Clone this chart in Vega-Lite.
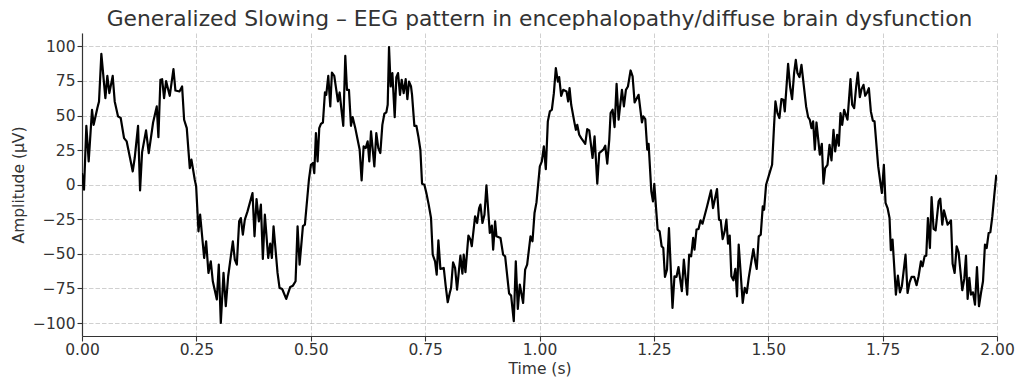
{
  "$schema": "https://vega.github.io/schema/vega-lite/v6.json",
  "width": 915,
  "height": 303,
  "autosize": {"type": "none"},
  "padding": {"left": 82, "top": 33, "right": 27, "bottom": 54},
  "background": "white",
  "title": {
    "text": "Generalized Slowing – EEG pattern in encephalopathy/diffuse brain dysfunction",
    "font": "DejaVu Sans",
    "fontSize": 21.8,
    "fontWeight": "normal",
    "color": "#333333",
    "anchor": "middle",
    "frame": "group",
    "offset": 2
  },
  "config": {
    "view": {"stroke": null},
    "axis": {
      "domainColor": "#333333",
      "domainWidth": 1.2,
      "tickColor": "#333333",
      "tickSize": 5,
      "tickWidth": 1.1,
      "labelFont": "DejaVu Sans",
      "labelFontSize": 15.5,
      "labelColor": "#333333",
      "titleFont": "DejaVu Sans",
      "titleFontSize": 15.5,
      "titleFontWeight": "normal",
      "titleColor": "#333333",
      "gridColor": "#b0b0b0",
      "gridOpacity": 0.6,
      "gridWidth": 1,
      "gridDash": [4.5, 2],
      "labelFlush": false,
      "labelOverlap": false,
      "labelBound": false
    }
  },
  "data": {
    "values": [
      {"t":0,"v":8.4},{"t":0.0044,"v":-3.6},{"t":0.0095,"v":42.6},{"t":0.0146,"v":16.9},{"t":0.0219,"v":54.2},{"t":0.0255,"v":43.3},{"t":0.0336,"v":55.4},{"t":0.0372,"v":60.2},{"t":0.0423,"v":94.6},{"t":0.0511,"v":62.6},{"t":0.0554,"v":78.7},{"t":0.0598,"v":66.2},{"t":0.0671,"v":78.7},{"t":0.0715,"v":60.2},{"t":0.0788,"v":49.4},{"t":0.0846,"v":48.2},{"t":0.0919,"v":33.7},{"t":0.0977,"v":31.3},{"t":0.105,"v":19.3},{"t":0.1109,"v":9.6},{"t":0.1152,"v":19.3},{"t":0.1225,"v":42.6},{"t":0.1269,"v":-4.1},{"t":0.1313,"v":23.4},{"t":0.14,"v":39.3},{"t":0.1459,"v":22.9},{"t":0.1554,"v":45},{"t":0.1634,"v":56.6},{"t":0.167,"v":34.4},{"t":0.1714,"v":75.9},{"t":0.1751,"v":76.3},{"t":0.1794,"v":62.6},{"t":0.1838,"v":74.9},{"t":0.1918,"v":64.3},{"t":0.1999,"v":83.6},{"t":0.2042,"v":68.1},{"t":0.213,"v":67.4},{"t":0.2188,"v":71},{"t":0.2232,"v":47},{"t":0.229,"v":40.9},{"t":0.2356,"v":12},{"t":0.2392,"v":18.1},{"t":0.2465,"v":3.6},
      {"t":0.2495,"v":-1.2},{"t":0.2546,"v":-33.7},{"t":0.2582,"v":-21.7},{"t":0.267,"v":-53},{"t":0.2713,"v":-41},{"t":0.2764,"v":-63.8},{"t":0.2815,"v":-55.4},{"t":0.2859,"v":-69.8},{"t":0.2947,"v":-83},{"t":0.299,"v":-57.8},{"t":0.3034,"v":-100},{"t":0.3093,"v":-63.8},{"t":0.3143,"v":-87.9},{"t":0.3195,"v":-66.2},{"t":0.3297,"v":-41},{"t":0.334,"v":-54.2},{"t":0.3384,"v":-57.8},{"t":0.3435,"v":-26.5},{"t":0.3472,"v":-24.1},{"t":0.3516,"v":-36.1},{"t":0.3559,"v":-25.3},{"t":0.3618,"v":-19.3},{"t":0.3727,"v":-6},{"t":0.3771,"v":-37.3},{"t":0.3815,"v":-10.4},{"t":0.3866,"v":-26.5},{"t":0.391,"v":-14.4},{"t":0.3953,"v":-53.7},{"t":0.3997,"v":-21.7},{"t":0.407,"v":-53},{"t":0.4114,"v":-42.6},{"t":0.415,"v":-53},{"t":0.4187,"v":-30.1},{"t":0.4274,"v":-63.8},{"t":0.4318,"v":-74.6},{"t":0.4376,"v":-75.4},{"t":0.4464,"v":-82.6},{"t":0.4552,"v":-73.9},{"t":0.461,"v":-73},{"t":0.4668,"v":-69.8},{"t":0.4712,"v":-30.1},{"t":0.4756,"v":-57.8},
      {"t":0.4829,"v":-30},{"t":0.4872,"v":-28.9},{"t":0.496,"v":3.6},{"t":0.5004,"v":14.4},{"t":0.5047,"v":15.7},{"t":0.5077,"v":8.4},{"t":0.5113,"v":37.3},{"t":0.515,"v":16.9},{"t":0.5186,"v":40.9},{"t":0.5223,"v":44},{"t":0.5266,"v":45},{"t":0.531,"v":66.7},{"t":0.5339,"v":65},{"t":0.5383,"v":78.7},{"t":0.5427,"v":56.6},{"t":0.5463,"v":81.1},{"t":0.5514,"v":78.7},{"t":0.5594,"v":60.2},{"t":0.5631,"v":66.7},{"t":0.5675,"v":53},{"t":0.5711,"v":42.6},{"t":0.5755,"v":93.2},{"t":0.5792,"v":68.6},{"t":0.5835,"v":68.6},{"t":0.5879,"v":42.6},{"t":0.5915,"v":48.9},{"t":0.5974,"v":40.9},{"t":0.6025,"v":32.5},{"t":0.6069,"v":25.3},{"t":0.6112,"v":3.1},{"t":0.6156,"v":27.7},{"t":0.62,"v":26.5},{"t":0.6244,"v":31.3},{"t":0.628,"v":16.9},{"t":0.6317,"v":38.5},{"t":0.639,"v":13.2},{"t":0.6433,"v":37.3},{"t":0.6477,"v":26.5},{"t":0.6521,"v":22.9},{"t":0.6565,"v":43.3},{"t":0.6609,"v":51.3},{"t":0.6652,"v":52.3},{"t":0.6682,"v":57.8},{"t":0.6711,"v":99.5},{"t":0.6747,"v":71},{"t":0.6784,"v":80.7},{"t":0.6835,"v":48.9},{"t":0.6871,"v":77.8},{"t":0.6908,"v":80.7},{"t":0.6951,"v":65},{"t":0.6988,"v":75.9},{"t":0.7031,"v":66.2},{"t":0.7075,"v":76.3},{"t":0.7112,"v":61.9},{"t":0.7148,"v":74.6},{"t":0.7192,"v":71},
      {"t":0.7214,"v":65},{"t":0.7265,"v":42.6},{"t":0.7309,"v":42.6},{"t":0.7352,"v":34.9},{"t":0.7396,"v":25.3},{"t":0.7433,"v":0.7},{"t":0.7484,"v":0},{"t":0.7527,"v":-6},{"t":0.7578,"v":-14.4},{"t":0.7629,"v":-24.1},{"t":0.7666,"v":-50.6},{"t":0.7717,"v":-55.4},{"t":0.7753,"v":-65},{"t":0.779,"v":-40.2},{"t":0.7834,"v":-60.9},{"t":0.7907,"v":-60.2},{"t":0.795,"v":-73.4},{"t":0.7994,"v":-85},{"t":0.8038,"v":-78.3},{"t":0.8067,"v":-74.6},{"t":0.8111,"v":-56.1},{"t":0.8155,"v":-60.2},{"t":0.8198,"v":-75.9},{"t":0.8271,"v":-51.3},{"t":0.8315,"v":-64.3},{"t":0.8344,"v":-50.6},{"t":0.8381,"v":-63.3},{"t":0.8446,"v":-36.8},{"t":0.849,"v":-39.7},{"t":0.852,"v":-44.5},{"t":0.8592,"v":-22.9},{"t":0.8636,"v":-27.7},{"t":0.868,"v":-16.9},{"t":0.8709,"v":-14.4},{"t":0.8753,"v":-27.7},{"t":0.8797,"v":-21.7},{"t":0.884,"v":-0.5},{"t":0.8914,"v":-34.9},{"t":0.8958,"v":-29.6},{"t":0.8987,"v":-47},{"t":0.903,"v":-26.5},{"t":0.9059,"v":-37.3},{"t":0.9147,"v":-38.5},{"t":0.9205,"v":-50.6},{"t":0.9249,"v":-51.8},{"t":0.9336,"v":-78.7},{"t":0.938,"v":-80.2},{"t":0.9438,"v":-98.7},{"t":0.9482,"v":-55.4},{"t":0.9526,"v":-89.8},{"t":0.9569,"v":-72.2},
      {"t":0.9642,"v":-85.5},{"t":0.9686,"v":-61.4},{"t":0.973,"v":-57.8},{"t":0.9803,"v":-37.3},{"t":0.9847,"v":-40.9},{"t":0.9891,"v":-20.5},{"t":0.9934,"v":-12.8},{"t":1.0007,"v":13.2},{"t":1.0051,"v":16.9},{"t":1.0095,"v":27.7},{"t":1.0138,"v":11.3},{"t":1.0182,"v":45.8},{"t":1.0226,"v":53},{"t":1.027,"v":54.2},{"t":1.0314,"v":66.2},{"t":1.0357,"v":84.3},{"t":1.0401,"v":74.6},{"t":1.043,"v":77.8},{"t":1.0474,"v":64.3},{"t":1.0518,"v":68.6},{"t":1.0591,"v":67.4},{"t":1.0627,"v":60.2},{"t":1.0657,"v":69.8},{"t":1.0693,"v":57.8},{"t":1.0766,"v":44.5},{"t":1.0795,"v":39.7},{"t":1.0825,"v":43.3},{"t":1.0868,"v":36.1},{"t":1.0912,"v":33.7},{"t":1.1,"v":29.6},{"t":1.1043,"v":40.2},{"t":1.1087,"v":39.3},{"t":1.116,"v":19.3},{"t":1.1204,"v":34.9},{"t":1.1263,"v":0.7},{"t":1.1306,"v":22.9},{"t":1.1394,"v":25.3},{"t":1.1437,"v":28.2},{"t":1.1481,"v":15.2},{"t":1.1525,"v":32.5},{"t":1.1554,"v":51.8},{"t":1.1598,"v":54.2},{"t":1.1641,"v":41.7},{"t":1.1685,"v":73},{"t":1.1729,"v":47},{"t":1.1802,"v":68.6},{"t":1.1845,"v":56.6},{"t":1.1889,"v":68.6},{"t":1.1933,"v":71},{"t":1.1991,"v":82.6},
      {"t":1.2035,"v":78.3},{"t":1.2079,"v":59.5},{"t":1.2166,"v":65},{"t":1.2239,"v":45},{"t":1.2268,"v":49.4},{"t":1.2312,"v":47.4},{"t":1.2356,"v":25.3},{"t":1.2385,"v":29.6},{"t":1.2444,"v":-4.8},{"t":1.248,"v":-12},{"t":1.2509,"v":0.7},{"t":1.2582,"v":-32.5},{"t":1.2626,"v":-33.7},{"t":1.267,"v":-44.5},{"t":1.2706,"v":-45.8},{"t":1.2742,"v":-66.7},{"t":1.2786,"v":-61.4},{"t":1.283,"v":-31.3},{"t":1.2907,"v":-89.1},{"t":1.295,"v":-66.2},{"t":1.2994,"v":-66.7},{"t":1.3038,"v":-59.5},{"t":1.3111,"v":-77},{"t":1.3155,"v":-54.2},{"t":1.3228,"v":-79.5},{"t":1.3271,"v":-50.6},{"t":1.3315,"v":-51.8},{"t":1.3359,"v":-38.5},{"t":1.3388,"v":-47},{"t":1.3432,"v":-32.5},{"t":1.3476,"v":-32},{"t":1.3519,"v":-25.8},{"t":1.3563,"v":-28.2},{"t":1.3662,"v":-15.7},{"t":1.3749,"v":-4.1},{"t":1.3793,"v":-16.9},{"t":1.388,"v":-3.1},{"t":1.3924,"v":-25.3},{"t":1.3961,"v":-25.8},{"t":1.4004,"v":-39.3},{"t":1.4048,"v":-33.7},{"t":1.4085,"v":-25.3},{"t":1.4121,"v":-42.6},{"t":1.4158,"v":-36.8},{"t":1.4194,"v":-66.2},{"t":1.4238,"v":-69.1},{"t":1.4281,"v":-60.9},{"t":1.4318,"v":-80.7},{"t":1.4354,"v":-43.3},
      {"t":1.4442,"v":-85.5},{"t":1.4486,"v":-74.6},{"t":1.453,"v":-78.3},{"t":1.4573,"v":-67.4},{"t":1.4675,"v":-46.5},{"t":1.4719,"v":-56.1},{"t":1.4748,"v":-60.9},{"t":1.4792,"v":-37.3},{"t":1.4836,"v":-36.1},{"t":1.488,"v":-15.7},{"t":1.4909,"v":-18.1},{"t":1.4953,"v":0},{"t":1.504,"v":9.6},{"t":1.5084,"v":14.4},{"t":1.5128,"v":43.3},{"t":1.5157,"v":60.2},{"t":1.5201,"v":51.8},{"t":1.5244,"v":48.2},{"t":1.5288,"v":61.9},{"t":1.5332,"v":61.4},{"t":1.5361,"v":53},{"t":1.5434,"v":87.4},{"t":1.5477,"v":71},{"t":1.5521,"v":61.9},{"t":1.5565,"v":80.7},{"t":1.5602,"v":90.3},{"t":1.5638,"v":80.7},{"t":1.5682,"v":77.8},{"t":1.5726,"v":86.7},{"t":1.5828,"v":56.6},{"t":1.5872,"v":48.9},{"t":1.5908,"v":47},{"t":1.5945,"v":40.9},{"t":1.5981,"v":45.8},{"t":1.6018,"v":25.3},{"t":1.6054,"v":45},{"t":1.6127,"v":21.7},{"t":1.6171,"v":29.6},{"t":1.6207,"v":0.7},{"t":1.6244,"v":12},{"t":1.6295,"v":14.4},{"t":1.6339,"v":28.9},{"t":1.6382,"v":17.6},{"t":1.6426,"v":39.7},{"t":1.6463,"v":24.1},{"t":1.6506,"v":36.1},{"t":1.6543,"v":28.2},{"t":1.6579,"v":51.8},{"t":1.6616,"v":43.3},{"t":1.6659,"v":54.2},{"t":1.6732,"v":47},{"t":1.6798,"v":76.3},{"t":1.6834,"v":57.8},{"t":1.6878,"v":55.4},{"t":1.6922,"v":71},{"t":1.6958,"v":81.1},
      {"t":1.7002,"v":63.3},{"t":1.7039,"v":69.1},{"t":1.7082,"v":72.2},{"t":1.7119,"v":64.3},{"t":1.7162,"v":66.7},{"t":1.7199,"v":69.8},{"t":1.7243,"v":53},{"t":1.7287,"v":46.2},{"t":1.7323,"v":45.8},{"t":1.7403,"v":13.2},{"t":1.7447,"v":2.4},{"t":1.7484,"v":-6},{"t":1.7527,"v":14.4},{"t":1.7564,"v":-13.2},{"t":1.7608,"v":-16.9},{"t":1.7651,"v":-24.1},{"t":1.768,"v":-47.4},{"t":1.7717,"v":-39.7},{"t":1.7753,"v":-59},{"t":1.779,"v":-79.5},{"t":1.7834,"v":-65.7},{"t":1.7878,"v":-77.8},{"t":1.7921,"v":-73.4},{"t":1.8001,"v":-50.6},{"t":1.8045,"v":-78.3},{"t":1.8089,"v":-70.6},{"t":1.8133,"v":-66.7},{"t":1.8191,"v":-66.7},{"t":1.8242,"v":-72.7},{"t":1.8286,"v":-66.2},{"t":1.8337,"v":-55.4},{"t":1.8373,"v":-59},{"t":1.8417,"v":-51.8},{"t":1.8454,"v":-51.3},{"t":1.849,"v":-24.1},{"t":1.8534,"v":-45.8},{"t":1.857,"v":-8.9},{"t":1.8614,"v":-32},{"t":1.8658,"v":-33},{"t":1.8724,"v":-12},{"t":1.876,"v":-10.1},{"t":1.8804,"v":-28.9},{"t":1.884,"v":-18.5},{"t":1.8884,"v":-24.1},{"t":1.8921,"v":-28.9},{"t":1.8994,"v":-25.8},{"t":1.903,"v":-57.1},{"t":1.9074,"v":-63.8},{"t":1.9118,"v":-44.5},{"t":1.9161,"v":-48.9},{"t":1.9241,"v":-76.3},{"t":1.9285,"v":-68.1},{"t":1.9322,"v":-51.3},{"t":1.9358,"v":-82.6},{"t":1.9395,"v":-67.4},{"t":1.9431,"v":-79.5},{"t":1.9475,"v":-77.8},{"t":1.9519,"v":-86.7},{"t":1.9562,"v":-59.5},{"t":1.9606,"v":-87.9},{"t":1.965,"v":-78.3},{"t":1.9694,"v":-69.8},{"t":1.9737,"v":-43.3},{"t":1.9774,"v":-45.8},{"t":1.9818,"v":-34.9},{"t":1.9854,"v":-34.4},{"t":1.9898,"v":-22.9},{"t":1.9942,"v":-7.2},{"t":1.9985,"v":7.2}
    ]
  },
  "mark": {"type": "line", "color": "black", "strokeWidth": 2.2, "strokeJoin": "round", "clip": true},
  "encoding": {
    "x": {
      "field": "t",
      "type": "quantitative",
      "scale": {"domain": [0, 2], "nice": false, "zero": false},
      "axis": {
        "values": [0, 0.25, 0.5, 0.75, 1, 1.25, 1.5, 1.75, 2],
        "format": ".2f",
        "title": "Time (s)",
        "labelPadding": 1,
        "titlePadding": 4
      }
    },
    "y": {
      "field": "v",
      "type": "quantitative",
      "scale": {"domain": [-109.4, 109.7], "nice": false, "zero": false},
      "axis": {
        "values": [-100, -75, -50, -25, 0, 25, 50, 75, 100],
        "title": "Amplitude (μV)",
        "labelPadding": 2,
        "titlePadding": 6
      }
    }
  }
}
